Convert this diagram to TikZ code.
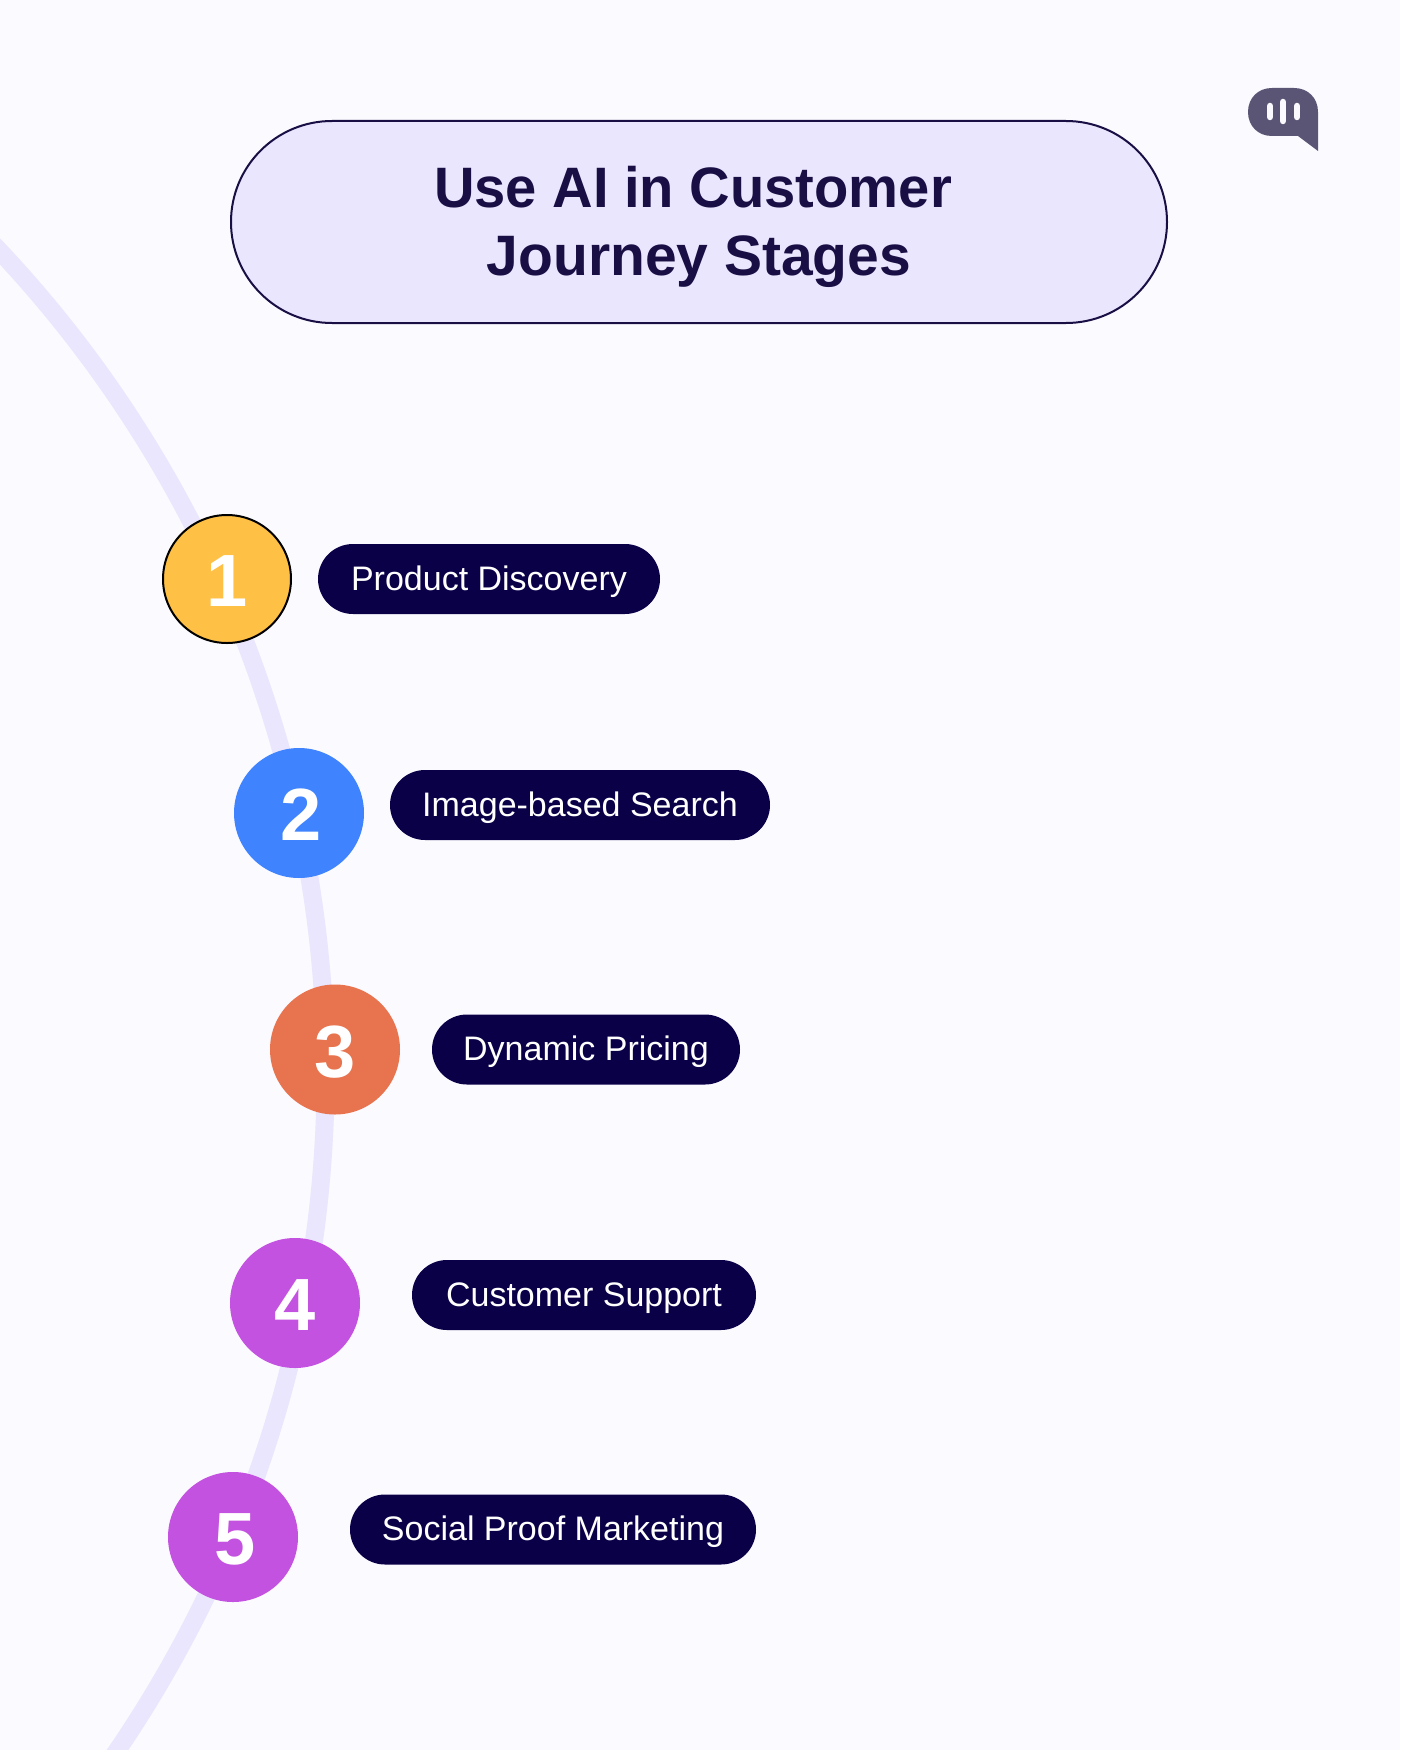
\documentclass[tikz,border=0pt]{standalone}
\usepackage{fontspec}
\setmainfont{Liberation Sans}
\usetikzlibrary{shapes.misc}
\definecolor{bgc}{HTML}{FBFAFF}
\definecolor{lav}{HTML}{EAE6FD}
\definecolor{navy}{HTML}{0A0047}
\definecolor{ink}{HTML}{1A0F45}
\definecolor{yel}{HTML}{FFC046}
\definecolor{blu}{HTML}{3F83FF}
\definecolor{ora}{HTML}{E8744F}
\definecolor{pur}{HTML}{C452E0}
\definecolor{logoc}{HTML}{5A5475}
\tikzset{
  stepdot/.style={circle,inner sep=0pt,minimum size=130pt,text=white,text height=55pt,text depth=0pt,font=\fontsize{74}{74}\selectfont\bfseries},
  tagpill/.style={rounded rectangle,fill=navy,text=white,inner sep=0pt,minimum height=70pt,text height=26pt,text depth=4pt,font=\fontsize{34}{34}\selectfont},
  logobar/.style={line width=6.5pt,line cap=round,draw=bgc}
}
\begin{document}
\begin{tikzpicture}[x=1pt,y=-1pt]
\useasboundingbox (0,0) rectangle (1400,1750);
\fill[bgc] (0,0) rectangle (1400,1750);
% background arc
\begin{scope}
\clip (0,0) rectangle (1400,1750);
\coordinate (arcc) at (-876.4,1074);
\draw[lav,line width=18pt] (arcc) ++(-50:1202pt) arc[start angle=-50,end angle=50,radius=1202pt];
\end{scope}
% title
\node[rounded rectangle,draw=ink,line width=2pt,fill=lav,inner sep=0pt,minimum width=936pt,minimum height=202pt] (title) at (699,222) {};
\node[inner sep=0pt,text=ink,align=center,font=\fontsize{57}{68}\selectfont\bfseries] (titletext) at (699,227) {\scalebox{0.985}[1]{Use AI in Customer}\hspace*{12pt}\\Journey Stages};
% logo
\fill[logoc] (1272,88) -- (1294,88) .. controls (1308,88) and (1318,98) .. (1318,112) -- (1318,151) -- (1298,136) -- (1272,136) .. controls (1258,136) and (1248,126) .. (1248,112) .. controls (1248,98) and (1258,88) .. (1272,88) -- cycle;
\draw[logobar] (1270,106) -- (1270,117);
\draw[logobar] (1283,102) -- (1283,121);
\draw[logobar] (1297,106) -- (1297,117);
% steps
\node[stepdot,fill=yel,draw=black,line width=2pt,minimum size=128pt] (s1) at (227,579) {1\hspace{2pt}};
\node[stepdot,fill=blu] (s2) at (299,813) {\hspace*{4pt}2};
\node[stepdot,fill=ora] (s3) at (335,1049.5) {3};
\node[stepdot,fill=pur] (s4) at (295,1303) {4};
\node[stepdot,fill=pur] (s5) at (233,1537) {\hspace*{4pt}5};
% tags
\node[tagpill,minimum width=342pt] (t1) at (489,579) {Product Discovery};
\node[tagpill,minimum width=380pt] (t2) at (580,805) {Image-based Search};
\node[tagpill,minimum width=308pt] (t3) at (586,1049.5) {Dynamic Pricing};
\node[tagpill,minimum width=344pt] (t4) at (584,1295) {Customer Support};
\node[tagpill,minimum width=406pt] (t5) at (553,1529.5) {Social Proof Marketing};
\end{tikzpicture}
\end{document}
